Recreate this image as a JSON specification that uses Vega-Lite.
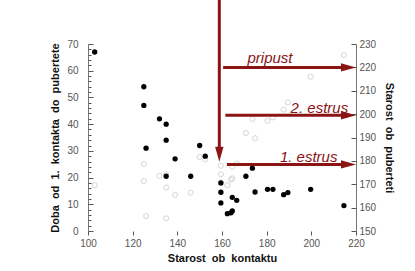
{
  "$schema": "https://vega.github.io/schema/vega-lite/v6.json",
  "autosize": {"type": "none"},
  "padding": {"left": 88, "top": 44, "right": 59, "bottom": 40},
  "width": 268,
  "height": 187,
  "background": "white",
  "config": {
    "view": {"stroke": null},
    "font": "Liberation Sans",
    "axis": {"labelFont": "Liberation Sans", "titleFont": "Liberation Sans", "labelFontSize": 10, "labelColor": "#555555", "titleFontSize": 11, "titleFontWeight": "bold", "titleColor": "#111111", "grid": false, "domainColor": "#777777", "tickColor": "#555555", "tickWidth": 1}
  },
  "datasets": {
    "pts": [
      {"kontakt": 103, "doba": 67, "puberteta": 169.6},
      {"kontakt": 125, "doba": 54, "puberteta": 178.6},
      {"kontakt": 125, "doba": 47, "puberteta": 171.4},
      {"kontakt": 126, "doba": 31, "puberteta": 156.4},
      {"kontakt": 132, "doba": 42, "puberteta": 173.6},
      {"kontakt": 135, "doba": 40, "puberteta": 174.3},
      {"kontakt": 135, "doba": 34, "puberteta": 168.6},
      {"kontakt": 135, "doba": 20.5, "puberteta": 155.4},
      {"kontakt": 139, "doba": 27, "puberteta": 165.4},
      {"kontakt": 146, "doba": 20.5, "puberteta": 166.4},
      {"kontakt": 150, "doba": 32, "puberteta": 181.7},
      {"kontakt": 152.5, "doba": 28, "puberteta": 180.7},
      {"kontakt": 159.5, "doba": 18, "puberteta": 177.9},
      {"kontakt": 159.5, "doba": 14.5, "puberteta": 174.3},
      {"kontakt": 159.5, "doba": 10.5, "puberteta": 170.7},
      {"kontakt": 162.4, "doba": 6.5, "puberteta": 169.6},
      {"kontakt": 164, "doba": 6.8, "puberteta": 172},
      {"kontakt": 164.6, "doba": 7.5, "puberteta": 172.5},
      {"kontakt": 164.6, "doba": 12.6, "puberteta": 177.5},
      {"kontakt": 166.6, "doba": 11.5, "puberteta": 178.9},
      {"kontakt": 170.7, "doba": 20.5, "puberteta": 191.9},
      {"kontakt": 173.6, "doba": 23.5, "puberteta": 197.9},
      {"kontakt": 174.8, "doba": 14.6, "puberteta": 189.7},
      {"kontakt": 180.4, "doba": 15.6, "puberteta": 197.1},
      {"kontakt": 182.8, "doba": 15.6, "puberteta": 198.6},
      {"kontakt": 187.6, "doba": 13.6, "puberteta": 201.9},
      {"kontakt": 189.5, "doba": 14.4, "puberteta": 205},
      {"kontakt": 199.7, "doba": 15.6, "puberteta": 216},
      {"kontakt": 214.6, "doba": 9.5, "puberteta": 225.3}
    ],
    "arrows": [
      {"x": 158.8, "x2": 158.8, "y": 249, "y2": 184},
      {"x": 160.5, "x2": 214, "y": 220, "y2": 220},
      {"x": 161.5, "x2": 214, "y": 199.5, "y2": 199.5},
      {"x": 162.2, "x2": 214, "y": 178.5, "y2": 178.5}
    ],
    "heads": [
      {"x": 158.8, "y": 179.6, "dir": "down"},
      {"x": 220, "y": 220, "dir": "right"},
      {"x": 220, "y": 199.5, "dir": "right"},
      {"x": 220, "y": 178.5, "dir": "right"}
    ],
    "labels": [
      {"x": 181.5, "y": 221.8, "text": "pripust"},
      {"x": 203.6, "y": 200.4, "text": "2. estrus"},
      {"x": 198.8, "y": 179.6, "text": "1. estrus"}
    ]
  },
  "layer": [
    {
      "data": {"name": "pts"},
      "mark": {"type": "point", "shape": "circle", "filled": false, "size": 26, "stroke": "#c4c4c4", "strokeWidth": 1},
      "encoding": {
        "x": {"field": "kontakt", "type": "quantitative", "scale": {"domain": [100, 220], "nice": false, "zero": false},
          "axis": {"title": "Starost\u00a0 ob\u00a0 kontaktu", "values": [100, 120, 140, 160, 180, 200, 220], "domain": false, "tickSize": 4, "labelPadding": 3, "titlePadding": 4, "labelFlush": false}},
        "y": {"field": "puberteta", "type": "quantitative", "scale": {"domain": [150, 230], "nice": false, "zero": false},
          "axis": {"orient": "right", "title": "Starost\u00a0 ob\u00a0 puberteti", "values": [150, 160, 170, 180, 190, 200, 210, 220, 230], "ticks": false, "labelPadding": 3, "titlePadding": 8, "labelFlush": false}}
      }
    },
    {
      "data": {"name": "pts"},
      "mark": {"type": "point", "opacity": 0},
      "encoding": {
        "x": {"field": "kontakt", "type": "quantitative"},
        "y": {"field": "puberteta", "type": "quantitative", "scale": {"domain": [150, 230], "nice": false, "zero": false},
          "axis": {"orient": "left", "offset": -268, "title": null, "labels": false, "domain": false, "values": [150, 160, 170, 180, 190, 200, 210, 220, 230], "tickSize": 5}}
      }
    },
    {
      "data": {"name": "pts"},
      "mark": {"type": "circle", "size": 28, "color": "black", "opacity": 1},
      "encoding": {
        "x": {"field": "kontakt", "type": "quantitative"},
        "y": {"field": "doba", "type": "quantitative", "scale": {"domain": [0, 70], "nice": false, "zero": false},
          "axis": {"orient": "left", "title": "Doba\u00a0 od\u00a0 1.\u00a0 kontakta\u00a0 do\u00a0 pubertete", "values": [0, 10, 20, 30, 40, 50, 60, 70],
            "ticks": false, "labelFlush": false, "labelPadding": 10, "titlePadding": 6}}
      }
    },
    {
      "data": {"name": "pts"},
      "mark": {"type": "point", "opacity": 0},
      "encoding": {
        "x": {"field": "kontakt", "type": "quantitative"},
        "y": {"field": "doba", "type": "quantitative", "scale": {"domain": [0, 70], "nice": false, "zero": false},
          "axis": {"orient": "right", "offset": -268, "title": null, "labels": false, "domain": false, "values": [0, 10, 20, 30, 40, 50, 60, 70], "tickSize": 5}}
      }
    },
    {
      "data": {"name": "pts"},
      "mark": {"type": "point", "opacity": 0},
      "encoding": {
        "x": {"field": "kontakt", "type": "quantitative"},
        "y": {"field": "doba", "type": "quantitative", "scale": {"domain": [0, 70], "nice": false, "zero": false},
          "axis": {"orient": "right", "offset": -268, "title": null, "labels": false, "domain": false,
            "values": [2,4,6,8,12,14,16,18,22,24,26,28,32,34,36,38,42,44,46,48,52,54,56,58,62,64,66,68], "tickSize": 3}}
      }
    },
    {
      "data": {"name": "arrows"},
      "mark": {"type": "rule", "color": "#8b1414", "strokeWidth": 3, "clip": false},
      "encoding": {
        "x": {"field": "x", "type": "quantitative"},
        "x2": {"field": "x2"},
        "y": {"field": "y", "type": "quantitative", "scale": {"domain": [150, 230], "nice": false, "zero": false}, "axis": null},
        "y2": {"field": "y2"}
      }
    },
    {
      "data": {"name": "heads"},
      "mark": {"type": "point", "filled": true, "size": 900, "color": "#8b1414", "opacity": 1, "strokeWidth": 0, "clip": false},
      "encoding": {
        "x": {"field": "x", "type": "quantitative"},
        "y": {"field": "y", "type": "quantitative", "scale": {"domain": [150, 230], "nice": false, "zero": false}, "axis": null},
        "shape": {"field": "dir", "type": "nominal", "legend": null,
          "scale": {"domain": ["right", "down"], "range": ["M 0 0 L -1 -0.28 L -1 0.28 Z", "M 0 0 L -0.28 -1 L 0.28 -1 Z"]}}
      }
    },
    {
      "data": {"name": "labels"},
      "mark": {"type": "text", "font": "Liberation Sans", "fontSize": 15, "fontStyle": "italic", "color": "#8b1414", "baseline": "alphabetic", "align": "center"},
      "encoding": {
        "x": {"field": "x", "type": "quantitative"},
        "y": {"field": "y", "type": "quantitative", "scale": {"domain": [150, 230], "nice": false, "zero": false}, "axis": null},
        "text": {"field": "text"}
      }
    }
  ],
  "resolve": {"scale": {"y": "independent"}, "axis": {"y": "independent"}}
}
